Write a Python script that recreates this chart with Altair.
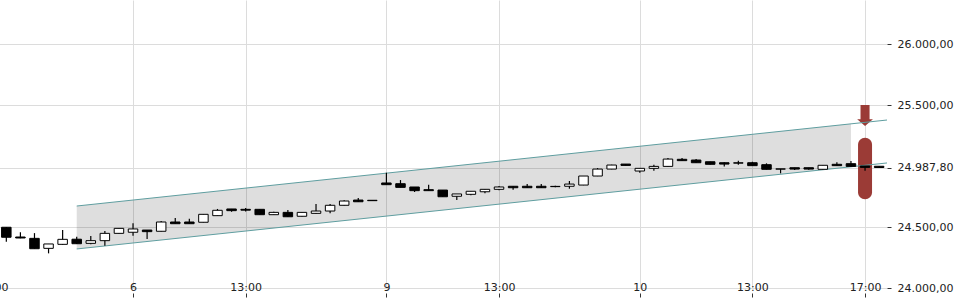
import altair as alt
import pandas as pd

# 30-minute candles, index 0 = day 6 09:00 (18 candles per trading day)
candle_index = list(range(-9, 54))
opens = [24498, 24418, 24407, 24325, 24358, 24400, 24366, 24388, 24448,
         24457, 24475, 24465, 24541, 24541, 24539, 24593, 24648, 24645,
         24645, 24601, 24620, 24588, 24612, 24631, 24678, 24721, 24719,
         24861, 24855, 24828, 24806, 24803, 24752, 24768, 24789, 24809,
         24834, 24834, 24834, 24833, 24834, 24844, 24918, 24975, 25016,
         24959, 24981, 24997, 25055, 25049, 25035, 25027, 25026, 25027,
         25011, 24976, 24986, 24986, 24973, 25014, 25019, 25000, 24998]
highs = [24500, 24457, 24450, 24361, 24475, 24420, 24426, 24467, 24490,
         24530, 24476, 24549, 24574, 24568, 24606, 24648, 24648, 24655,
         24645, 24625, 24640, 24622, 24688, 24688, 24720, 24738, 24720,
         24945, 24885, 24828, 24847, 24803, 24771, 24795, 24811, 24836,
         24836, 24852, 24852, 24838, 24877, 24918, 24983, 25010, 25016,
         24981, 25011, 25066, 25066, 25057, 25036, 25030, 25044, 25035,
         25022, 24976, 24986, 24986, 25006, 25030, 25041, 25000, 24998]
lows = [24380, 24408, 24322, 24284, 24355, 24360, 24358, 24347, 24447,
        24429, 24402, 24464, 24526, 24526, 24538, 24592, 24625, 24628,
        24600, 24598, 24582, 24586, 24608, 24612, 24677, 24705, 24715,
        24847, 24825, 24787, 24798, 24748, 24721, 24760, 24776, 24801,
        24806, 24820, 24820, 24826, 24814, 24843, 24917, 24974, 25005,
        24945, 24961, 24996, 25043, 25025, 25012, 24997, 25011, 25001,
        24972, 24940, 24967, 24970, 24972, 25002, 24995, 24962, 24986]
closes = [24416, 24410, 24322, 24361, 24399, 24363, 24388, 24448, 24489,
          24484, 24462, 24541, 24527, 24527, 24604, 24637, 24634, 24638,
          24601, 24620, 24584, 24620, 24631, 24678, 24713, 24707, 24716,
          24847, 24825, 24798, 24798, 24748, 24771, 24793, 24809, 24828,
          24822, 24822, 24822, 24831, 24852, 24918, 24975, 25008, 25005,
          24981, 24997, 25057, 25044, 25027, 25014, 25016, 25024, 25003,
          24973, 24975, 24975, 24975, 25006, 25003, 24997, 24989, 24987.8]

# x-axis ticks
tick_index = [-10, 0, 8, 18, 26, 36, 44, 52]
tick_labels = ["13:00", "6", "13:00", "9", "13:00", "10", "13:00", "17:00"]

# y-axis ticks
price_ticks = [24000, 24500, 24987.8, 25500, 26000]

# trend channel
band_index = [-4, 51]
band_upper = [24672, 25346]
band_lower = [24320, 24994]
channel_index = [-4, 56]
channel_upper = [24672, 25407]
channel_lower = [24320, 25055]

# signal marker
signal_index = [52]
signal_low = [24727]
signal_high = [25232]
arrow_price = [25414]

candles = pd.DataFrame({"idx": candle_index, "open": opens, "high": highs,
                        "low": lows, "close": closes})
band = pd.DataFrame({"idx": band_index, "upper": band_upper, "lower": band_lower})
channel = pd.DataFrame({"idx": channel_index, "upper": channel_upper,
                        "lower": channel_lower})
signal = pd.DataFrame({"idx": signal_index, "low": signal_low,
                       "high": signal_high, "arrow": arrow_price})

x_label_expr = "".join(f"datum.value == {i} ? '{l}' : " for i, l in zip(tick_index, tick_labels)) + "''"
y_label_expr = ("replace(replace(replace(format(datum.value, ',.2f'), ',', '#'), "
                "'.', ','), '#', '.')")

# plot area starts 20px left of the page edge (the reference is cropped there)
x_scale = alt.Scale(domain=[-10.87, 53.56], nice=False, zero=False, padding=0)
y_scale = alt.Scale(domain=[24000, 26361], nice=False, zero=False, padding=0)

x_axis = alt.Axis(values=tick_index, labelExpr=x_label_expr, title=None,
                  orient="bottom", offset=5, tickSize=4, tickColor="#333",
                  labelPadding=-10, labelBaseline="middle", labelFlush=False,
                  labelOverlap=False, domain=False, grid=True,
                  gridColor="#dcdcdc", gridWidth=1, labelFont="DejaVu Sans",
                  labelFontSize=11, labelColor="#222")
y_axis = alt.Axis(values=price_ticks, labelExpr=y_label_expr, title=None,
                  orient="right", tickSize=4, tickColor="#333", labelPadding=6,
                  domain=False, grid=True, gridColor="#dcdcdc", gridWidth=1,
                  labelFont="DejaVu Sans", labelFontSize=11, labelColor="#222",
                  labelOverlap=False, labelFlush=False)


def X():
    return alt.X("idx:Q", scale=x_scale, axis=x_axis)


def Y(field):
    return alt.Y(f"{field}:Q", scale=y_scale, axis=y_axis)


band_layer = alt.Chart(band).mark_area(color="#000000", opacity=0.13).encode(
    x=X(), y=Y("upper"), y2="lower:Q")

upper_line = alt.Chart(channel).mark_line(color="#5f9ea0", strokeWidth=1, clip=True).encode(
    x=X(), y=Y("upper"))
lower_line = alt.Chart(channel).mark_line(color="#5f9ea0", strokeWidth=1, clip=True).encode(
    x=X(), y=Y("lower"))

signal_bar = alt.Chart(signal).mark_bar(size=14, cornerRadius=7, color="#9b3b36").encode(
    x=X(), y=Y("low"), y2="high:Q")

arrow_path = "M-0.43,-1L0.43,-1L0.43,0.36L0.75,0.36L0,1L-0.75,0.36L-0.43,0.36Z"
arrow = alt.Chart(signal).mark_point(shape=arrow_path, size=441, filled=True,
                                     color="#9b3b36", opacity=1).encode(
    x=X(), y=Y("arrow"))

wicks = alt.Chart(candles).mark_rule(color="#000000", strokeWidth=1.2).encode(
    x=X(), y=Y("low"), y2="high:Q")

bodies = alt.Chart(candles).mark_bar(size=9.5, stroke="#000000", strokeWidth=1).encode(
    x=X(), y=Y("open"), y2="close:Q",
    fill=alt.condition("datum.close >= datum.open", alt.value("#ffffff"), alt.value("#000000")))

chart = alt.layer(band_layer, signal_bar, arrow, upper_line, lower_line, wicks, bodies).properties(
    width=907, height=288,
    padding={"left": -20, "top": 0, "right": 73, "bottom": 12},
    autosize=alt.AutoSizeParams(type="none"),
).configure_view(strokeWidth=0)

chart.save("out.html", embed_options={"renderer": "svg", "actions": False})
